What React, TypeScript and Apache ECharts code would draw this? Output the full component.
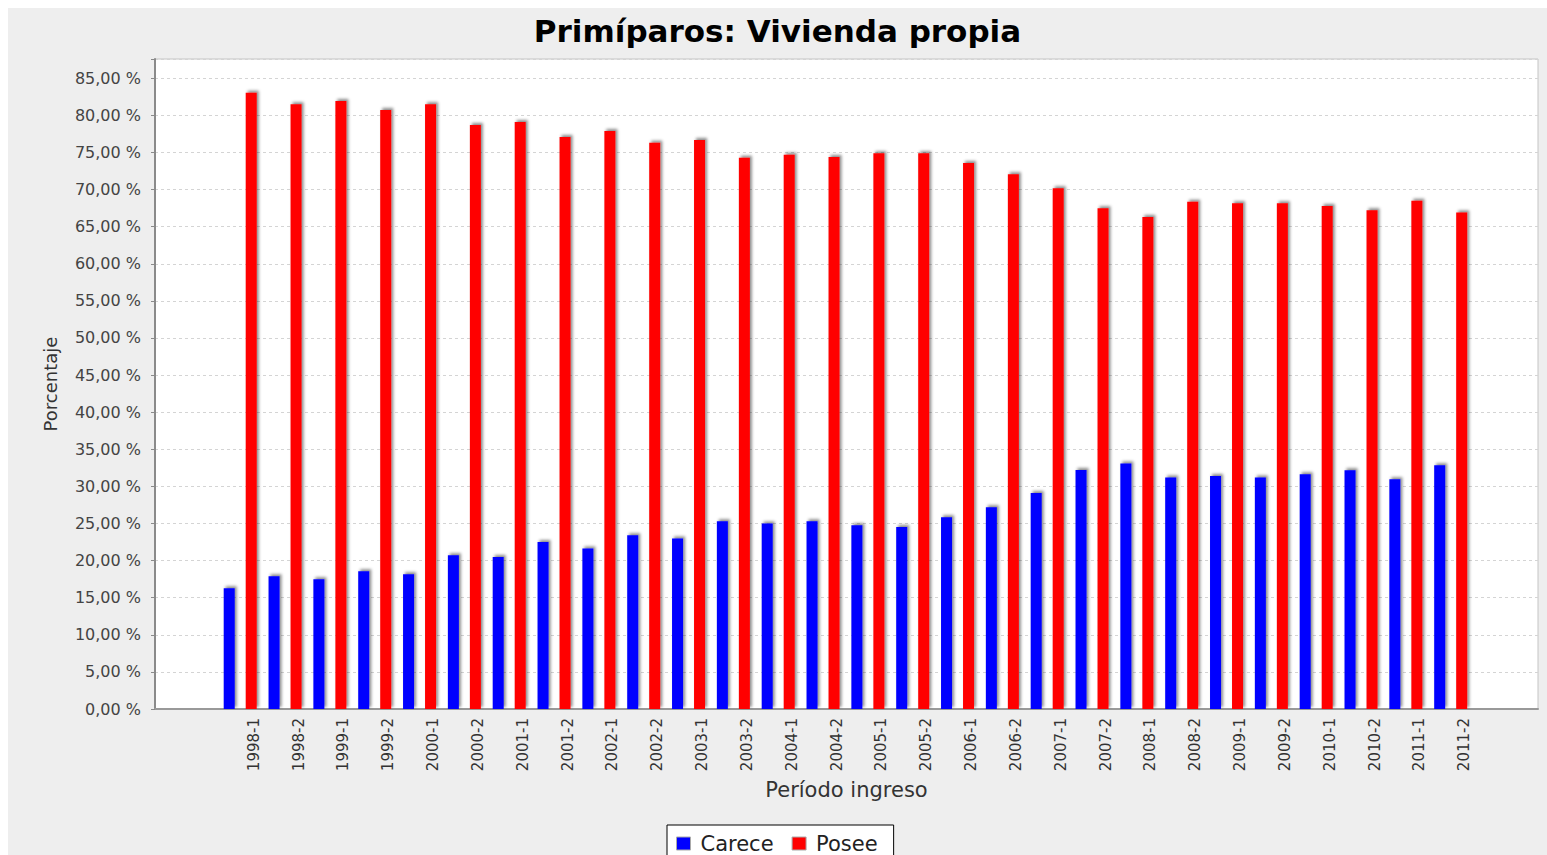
import React, { useEffect, useRef } from 'react';
import * as echarts from 'echarts';

const categories = [
  '1998-1', '1998-2', '1999-1', '1999-2', '2000-1', '2000-2', '2001-1', '2001-2',
  '2002-1', '2002-2', '2003-1', '2003-2', '2004-1', '2004-2', '2005-1', '2005-2',
  '2006-1', '2006-2', '2007-1', '2007-2', '2008-1', '2008-2', '2009-1', '2009-2',
  '2010-1', '2010-2', '2011-1', '2011-2',
];

const carece = [
  16.28, 17.89, 17.49, 18.57, 18.16, 20.73, 20.5, 22.52,
  21.63, 23.42, 22.98, 25.31, 25.0, 25.31, 24.77, 24.54,
  25.85, 27.2, 29.1, 32.2, 33.1, 31.2, 31.4, 31.2,
  31.65, 32.19, 30.97, 32.86,
];

const posee = [
  83.06, 81.5, 81.95, 80.73, 81.5, 78.71, 79.1, 77.1,
  77.9, 76.3, 76.7, 74.3, 74.7, 74.4, 74.9, 74.9,
  73.6, 72.06, 70.17, 67.48, 66.3, 68.37, 68.15, 68.15,
  67.8, 67.2, 68.5, 66.9,
];

const seriesNames = ['Carece', 'Posee'];
const titleText = 'Primíparos: Vivienda propia';
const yAxisName = 'Porcentaje';
const xAxisName = 'Período ingreso';
const yMax = 87.6;
const yStep = 5;

const FONT = 'DejaVu Sans';

export default function App() {
  const ref = useRef<HTMLDivElement>(null);

  useEffect(() => {
    document.documentElement.style.overflow = 'hidden';
    const chart = echarts.init(ref.current as HTMLDivElement, null, { renderer: 'svg' });

    const barShadow = {
      shadowColor: 'rgba(0,0,0,0.45)',
      shadowBlur: 3,
      shadowOffsetX: 2,
      shadowOffsetY: -2,
    };

    const option: any = {
      animation: false,
      backgroundColor: '#eeeeee',
      textStyle: { fontFamily: FONT },
      title: {
        text: titleText,
        left: 'center',
        top: 2,
        textStyle: { fontFamily: FONT, fontSize: 31, fontWeight: 'bold', color: '#000' },
      },
      legend: {
        data: seriesNames,
        left: 659,
        top: 817,
        orient: 'horizontal',
        backgroundColor: '#ffffff',
        borderColor: '#000000',
        borderWidth: 1,
        borderRadius: 0,
        padding: [8, 16, 8, 9],
        itemWidth: 14,
        itemHeight: 13,
        itemGap: 18,
        icon: 'rect',
        itemStyle: { borderColor: '#aaaaaa', borderWidth: 1, shadowBlur: 0, shadowOffsetX: 0, shadowOffsetY: 0 },
        textStyle: { fontFamily: FONT, fontSize: 21, color: '#222', padding: [0, 0, 0, 5] },
      },
      grid: [
        { left: 147, right: 9, top: 51, bottom: 146, show: true, backgroundColor: '#ffffff', borderColor: '#c4c4c4', borderWidth: 1 },
        { left: 209.8, right: 73.9, top: 51, bottom: 146 },
        { left: 223.3, right: 60.4, top: 51, bottom: 146 },
      ],
      xAxis: [
        {
          type: 'value',
          gridIndex: 0,
          min: 0,
          max: 1,
          axisLine: { show: true, onZero: false, lineStyle: { color: '#999999', width: 2 } },
          axisTick: { show: false },
          axisLabel: { show: false },
          splitLine: { show: false },
          name: xAxisName,
          nameLocation: 'middle',
          nameGap: 70,
          nameTextStyle: { fontFamily: FONT, fontSize: 21, color: '#333' },
        },
        {
          type: 'category',
          gridIndex: 1,
          data: categories,
          show: false,
        },
        {
          type: 'category',
          gridIndex: 2,
          data: categories,
          axisLine: { show: false },
          axisTick: { show: false },
          splitLine: { show: false },
          axisLabel: { interval: 0, rotate: 90, fontFamily: FONT, fontSize: 15, color: '#333', margin: 9 },
        },
      ],
      yAxis: [
        {
          type: 'value',
          gridIndex: 0,
          min: 0,
          max: yMax,
          interval: yStep,
          axisLine: { show: true, lineStyle: { color: '#8a8a8a', width: 2 } },
          axisTick: { show: true, length: 4, lineStyle: { color: '#8a8a8a' } },
          axisLabel: {
            fontFamily: FONT,
            fontSize: 16,
            color: '#444',
            margin: 14,
            formatter: (v: number) => {
              const r = v / yStep;
              if (Math.abs(r - Math.round(r)) > 1e-6) return '';
              return v.toFixed(2).replace('.', ',') + ' %';
            },
          },
          splitLine: { show: true, lineStyle: { color: '#d4d4d4', type: [3, 3], width: 1 } },
          name: yAxisName,
          nameLocation: 'middle',
          nameGap: 96,
          nameRotate: 90,
          nameTextStyle: { fontFamily: FONT, fontSize: 18, color: '#333' },
        },
        { type: 'value', gridIndex: 1, min: 0, max: yMax, show: false, splitLine: { show: false } },
        { type: 'value', gridIndex: 2, min: 0, max: 1, show: false, splitLine: { show: false } },
      ],
      series: [
        {
          name: seriesNames[0],
          type: 'bar',
          xAxisIndex: 1,
          yAxisIndex: 1,
          data: carece,
          barWidth: 11,
          barGap: '100%',
          itemStyle: { color: '#0000ff', ...barShadow },
        },
        {
          name: seriesNames[1],
          type: 'bar',
          xAxisIndex: 1,
          yAxisIndex: 1,
          data: posee,
          barWidth: 11,
          barGap: '100%',
          itemStyle: { color: '#ff0000', ...barShadow },
        },
      ],
    };

    chart.setOption(option);
    return () => chart.dispose();
  }, []);

  return (
    <div
      ref={ref}
      style={{ position: 'fixed', left: 8, top: 8, width: 1539, height: 847 }}
    />
  );
}
